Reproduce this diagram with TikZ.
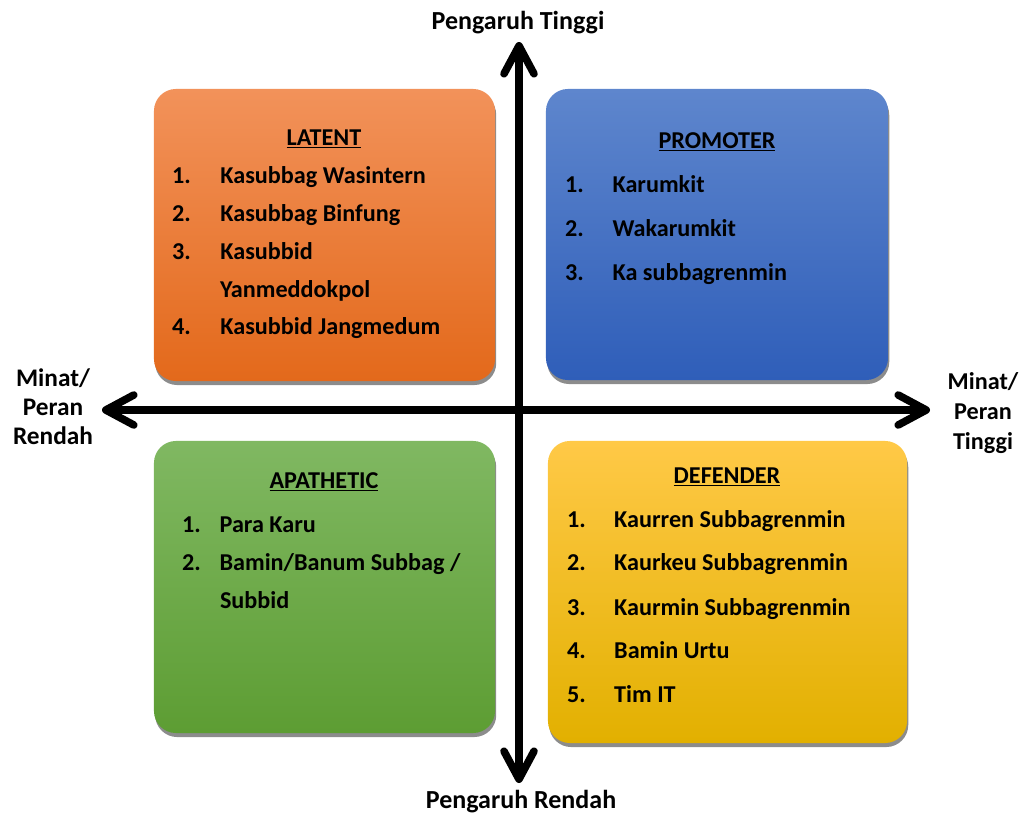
\documentclass[tikz,border=0pt]{standalone}
\usepackage{fontspec}
\setmainfont{Carlito}
\usetikzlibrary{arrows.meta,shadows}
\definecolor{orTop}{HTML}{F2925A}
\definecolor{orBot}{HTML}{E3691B}
\definecolor{blTop}{HTML}{5E86CD}
\definecolor{blBot}{HTML}{2F5EB9}
\definecolor{grTop}{HTML}{80B862}
\definecolor{grBot}{HTML}{5D9D33}
\definecolor{gdTop}{HTML}{FFC947}
\definecolor{gdMid}{HTML}{FFC000}
\definecolor{gdBot}{HTML}{E2B000}
\begin{document}
\begin{tikzpicture}[x=0.025cm,y=-0.025cm,
  every node/.style={font=\fontsize{17.2}{20}\selectfont\bfseries, inner sep=0pt, outer sep=0pt},
  quad/.style={rounded corners=0.55cm, draw=none,
    drop shadow={shadow xshift=0.03cm, shadow yshift=-0.1cm, fill=black, opacity=0.45}},
  title/.style={anchor=base},
  item/.style={anchor=base west},
  axislbl/.style={anchor=base, font=\fontsize{18.5}{22}\selectfont\bfseries},
  sidelbl/.style={anchor=base, font=\fontsize{18}{22}\selectfont\bfseries},
  sidelblr/.style={anchor=base, font=\fontsize{17.2}{22}\selectfont\bfseries},
  >={Straight Barb[length=0.7cm,width=0.75cm,round]},
  axis/.style={line width=0.19cm, <->}]
\useasboundingbox (0,0) rectangle (1034,815);

% quadrant boxes
\node[quad, top color=orTop, bottom color=orBot, minimum width=8.525cm, minimum height=7.3cm] (latent) at (324.5,235) {};
\node[quad, top color=blTop, bottom color=blBot, minimum width=8.55cm, minimum height=7.275cm] (promoter) at (717,234.5) {};
\node[quad, top color=grTop, bottom color=grBot, minimum width=8.525cm, minimum height=7.3cm] (apathetic) at (324.5,587) {};
\node[quad, top color=gdTop, middle color=gdMid, bottom color=gdBot, minimum width=8.975cm, minimum height=7.55cm] (defender) at (727.5,592) {};

% axes
\coordinate (ytop) at (519,42);
\coordinate (ybot) at (519,783);
\coordinate (xl) at (102,410);
\coordinate (xr) at (930,410);
\draw[axis] (ybot) -- (ytop);
\draw[axis] (xl) -- (xr);

% axis labels
\node[axislbl] (yhi) at (518,29) {Pengaruh Tinggi};
\node[axislbl] (ylo) at (521,808) {Pengaruh Rendah};
\node[sidelbl] (xlo1) at (53,386) {Minat/};
\node[sidelbl] (xlo2) at (53,415) {Peran};
\node[sidelbl] (xlo3) at (53,444) {Rendah};
\node[sidelblr] (xhi1) at (983,389) {Minat/};
\node[sidelblr] (xhi2) at (983,419) {Peran};
\node[sidelblr] (xhi3) at (983,449) {Tinggi};

% LATENT
\node[title] (latT) at (324,145) {\underline{LATENT}};
\node[item] (lat1) at (172,183) {\makebox[1.21cm][l]{1.}Kasubbag Wasintern};
\node[item] (lat2) at (172,221) {\makebox[1.21cm][l]{2.}Kasubbag Binfung};
\node[item] (lat3) at (172,259) {\makebox[1.21cm][l]{3.}Kasubbid};
\node[item] (lat3b) at (220,297) {Yanmeddokpol};
\node[item] (lat4) at (172,334) {\makebox[1.21cm][l]{4.}Kasubbid Jangmedum};

% PROMOTER
\node[title] (proT) at (717,148) {\underline{PROMOTER}};
\node[item] (pro1) at (565,192) {\makebox[1.19cm][l]{1.}Karumkit};
\node[item] (pro2) at (565,236) {\makebox[1.19cm][l]{2.}Wakarumkit};
\node[item] (pro3) at (565,280) {\makebox[1.19cm][l]{3.}Ka subbagrenmin};

% APATHETIC
\node[title] (apaT) at (324,488) {\underline{APATHETIC}};
\node[item] (apa1) at (182,532) {\makebox[0.94cm][l]{1.}Para Karu};
\node[item] (apa2) at (182,570) {\makebox[0.94cm][l]{2.}Bamin/Banum Subbag /};
\node[item] (apa2b) at (220,608) {Subbid};

% DEFENDER
\node[title] (defT) at (727,483) {\underline{DEFENDER}};
\node[item] (def1) at (567,527) {\makebox[1.18cm][l]{1.}Kaurren Subbagrenmin};
\node[item] (def2) at (567,570) {\makebox[1.18cm][l]{2.}Kaurkeu Subbagrenmin};
\node[item] (def3) at (567,615) {\makebox[1.18cm][l]{3.}Kaurmin Subbagrenmin};
\node[item] (def4) at (567,658) {\makebox[1.18cm][l]{4.}Bamin Urtu};
\node[item] (def5) at (567,702) {\makebox[1.18cm][l]{5.}Tim IT};
\end{tikzpicture}
\end{document}
